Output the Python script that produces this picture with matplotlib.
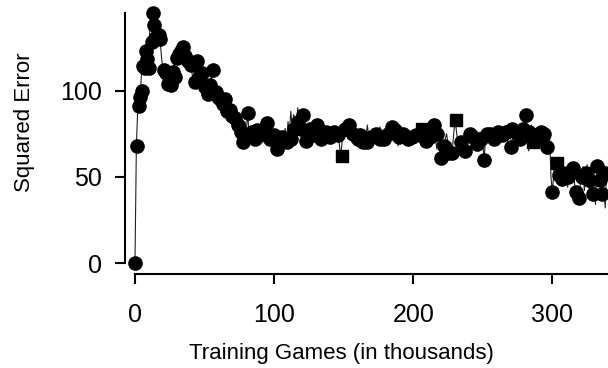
import numpy as np
import matplotlib
matplotlib.use("Agg")
import matplotlib.pyplot as plt

plt.rcParams["font.family"] = ["Liberation Sans", "DejaVu Sans"]

# error curve, one value per thousand games (0 .. 340)
line_err = [
    0, 68, 90, 95, 100, 114, 112, 123, 118, 113,
    128, 138, 145, 140, 131, 132, 126, 133, 130, 120,
    112, 110, 108, 104, 112, 103, 111, 108, 115, 119,
    122, 118, 121, 125, 123, 120, 116, 119, 114, 112,
    117, 110, 105, 113, 117, 108, 112, 104, 110, 102,
    100, 107, 98, 103, 101, 112, 99, 96, 101, 95,
    93, 95, 91, 97, 88, 92, 86, 90, 89, 84,
    87, 80, 83, 75, 79, 72, 77, 74, 69, 82,
    76, 87, 75, 73, 78, 71, 76, 70, 79, 74,
    72, 77, 80, 75, 72, 81, 70, 68, 74, 71,
    66, 72, 66, 69, 73, 76, 70, 74, 78, 70,
    82, 76, 88, 79, 86, 84, 80, 90, 83, 78,
    86, 85, 71, 72, 70, 76, 79, 74, 71, 80,
    80, 73, 69, 74, 77, 72, 70, 75, 71, 74,
    78, 72, 70, 76, 73, 71, 74, 68, 62, 72,
    76, 80, 75, 72, 78, 74, 70, 73, 77, 71,
    69, 74, 78, 70, 72, 76, 73, 80, 74, 70,
    75, 78, 72, 74, 77, 71, 79, 75, 72, 70,
    76, 73, 79, 77, 79, 74, 71, 76, 73, 68,
    75, 72, 74, 78, 70, 73, 76, 71, 74, 72,
    75, 70, 73, 76, 71, 78, 72, 69, 74, 71,
    77, 70, 68, 75, 80, 76, 72, 66, 74, 70,
    61, 68, 64, 72, 75, 69, 64, 70, 65, 74,
    83, 77, 70, 66, 73, 68, 65, 76, 72, 69,
    75, 71, 78, 73, 67, 75, 72, 70, 76, 73,
    69, 60, 74, 75, 72, 75, 77, 70, 74, 78,
    73, 76, 71, 79, 74, 77, 72, 75, 70, 78,
    73, 67, 78, 74, 80, 76, 72, 78, 74, 70,
    76, 86, 72, 65, 76, 80, 70, 74, 78, 72,
    67, 76, 78, 73, 75, 70, 67, 72, 74, 50,
    41, 52, 58, 49, 55, 51, 57, 48, 54, 56,
    50, 44, 53, 48, 55, 58, 46, 41, 44, 38,
    45, 50, 56, 42, 52, 57, 46, 40, 48, 40,
    53, 34, 56, 52, 47, 55, 40, 44, 32, 54,
    48,
]
line_games = np.arange(len(line_err))

# evaluation points drawn as circles
dot_games = [0, 1.5, 3, 3.5, 5, 5.5, 7, 8, 9, 10, 12, 13, 14, 15, 17, 18,
             21, 22, 24, 26, 27, 29, 30, 32, 33, 34.5, 36, 38, 40, 43, 44.5,
             46, 48, 50, 52.5, 54, 56, 58, 60, 61, 63, 65, 66, 68, 70, 72, 74,
             76, 77.5, 80, 81, 84, 86, 88, 90, 92, 95, 97, 100, 102, 104, 106,
             109, 112, 114, 117, 119, 121, 123, 126, 128, 131, 134, 137, 140,
             143, 146, 151, 154, 157, 160, 162, 164, 167, 170, 173, 176, 179,
             182, 184.5, 187, 190, 193, 196, 199, 202, 209, 212, 215, 217, 220,
             222, 225, 228, 234, 237, 240.5, 243, 246, 249, 251, 253, 255, 258,
             261, 264, 267, 270.5, 271, 274, 277, 279, 281, 283, 289, 292, 294, 296.5,
             300, 305, 307, 311, 313, 315, 317, 319.5, 321.5, 324, 326, 329, 332, 334, 336, 338]
dot_err = [0, 68, 91, 96, 100, 114, 113, 123, 118, 113, 128, 145, 138, 131, 132, 130,
           112, 110, 104, 103, 111, 108, 119, 121, 123, 125, 120, 117, 115, 105, 117,
           108, 110, 102, 98, 103, 112, 99, 96, 95, 92, 95, 88, 89, 85, 84, 80,
           76, 70, 74, 87, 76, 72, 77, 74, 75, 81, 72, 74, 66, 70, 73,
           70, 72, 78, 82, 78, 86, 71, 78, 74, 80, 72, 76, 73,
           76, 74, 78, 80, 75, 72, 74, 70, 70, 73, 75, 72, 72,
           75, 79, 77, 73, 75, 72, 73, 74, 71, 73, 80, 75, 61,
           68, 64, 64, 70, 65, 75, 73, 69, 72, 60, 75, 75, 72,
           76, 74, 76, 67, 78, 76, 72, 78, 86, 76, 72, 76, 75, 67,
           41, 51, 49, 50, 53, 55, 41, 38, 50, 52, 48, 40, 56, 48, 40, 52]

# points drawn as squares
square_games = [148.6, 206, 231, 286, 303, 309]
square_err = [62, 78, 83, 70, 58, 52]

fig = plt.figure(figsize=(6.08, 3.68), dpi=100)
ax = fig.add_axes([0.222, 0.285, 0.778, 0.68])

ax.plot(line_games, line_err, color="#222222", linewidth=0.8, clip_on=False, zorder=2)
ax.plot(dot_games, dot_err, linestyle="none", marker="o", markersize=9.5,
        color="black", clip_on=False, zorder=3)
ax.plot(square_games, square_err, linestyle="none", marker="s", markersize=8.5,
        color="black", clip_on=False, zorder=3)

ax.set_xlim(0, 340)
ax.set_ylim(0, 145)
ax.set_xticks([0, 100, 200, 300])
ax.set_yticks([0, 50, 100])

for side in ["top", "right"]:
    ax.spines[side].set_visible(False)
ax.spines["left"].set_position(("outward", 7))
ax.spines["bottom"].set_position(("outward", 8))
ax.spines["left"].set_linewidth(1.5)
ax.spines["bottom"].set_linewidth(1.5)
ax.tick_params(length=7, width=1.5, labelsize=18)
ax.tick_params(axis="x", pad=14)
ax.tick_params(axis="y", pad=10)

ax.set_xlabel("Training Games (in thousands)", fontsize=16)
ax.set_ylabel("Squared Error", fontsize=16)
# labels sit left of the axes centre in the original
ax.xaxis.set_label_coords(0.4355, -0.318)
ax.yaxis.set_label_coords(-0.211, 0.564)

fig.savefig("out.png", dpi=100)
